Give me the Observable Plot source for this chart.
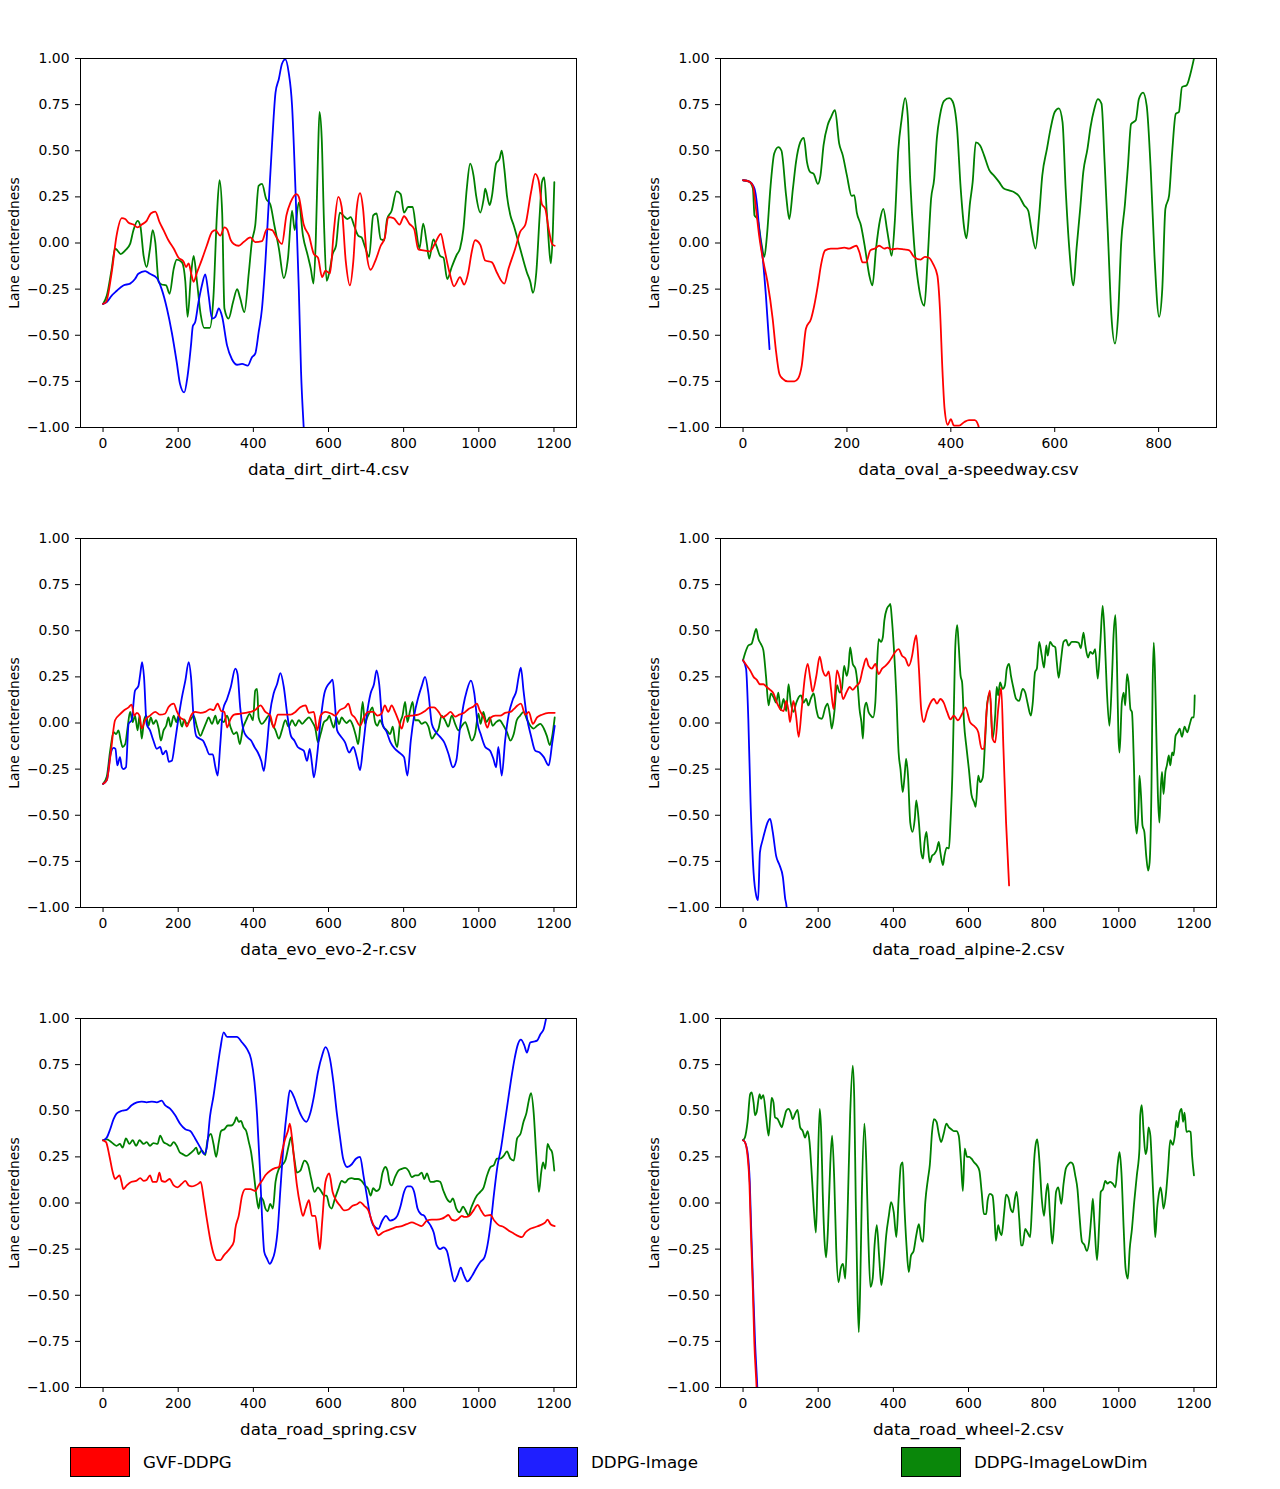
<!DOCTYPE html>
<html>
<head>
<meta charset="utf-8">
<script src="https://cdn.jsdelivr.net/npm/d3@7"></script>
<script src="https://cdn.jsdelivr.net/npm/@observablehq/plot@0.6"></script>
<style>
  body { margin: 0; background: white; font-family: "DejaVu Sans", sans-serif; }
  #page { position: relative; width: 1280px; height: 1489px; background: white; }
  .panel { position: absolute; width: 640px; height: 480px; }
  .legend-item { position: absolute; top: 1447px; height: 30px; display: flex; align-items: center; font-size: 16.7px; color: black; }
  .swatch { width: 58px; height: 28px; border: 1px solid #000; margin-right: 13px; }
</style>
</head>
<body>
<div id="page"></div>
<script>
// ---------- shared ticks / labels ----------
const yTicks = [-1, -0.75, -0.5, -0.25, 0, 0.25, 0.5, 0.75, 1];
const xTicks1200 = [0, 200, 400, 600, 800, 1000, 1200];
const xTicksOval = [0, 200, 400, 600, 800];
const yLabel = "Lane centeredness";
const seriesNames = ["GVF-DDPG", "DDPG-Image", "DDPG-ImageLowDim"];
const seriesColors = ["#ff0000", "#0000ff", "#008000"];
const titles = ["data_dirt_dirt-4.csv", "data_oval_a-speedway.csv", "data_evo_evo-2-r.csv",
                "data_road_alpine-2.csv", "data_road_spring.csv", "data_road_wheel-2.csv"];

// ---------- data_dirt_dirt-4 ----------
const dirtGvf = [[0,-0.33],[8,-0.32],[23,-0.16],[36,0.04],[50,0.135],[59,0.13],[68,0.11],[81,0.10],[92,0.085],[103,0.10],[116,0.12],[127,0.16],[139,0.17],[151,0.11],[161,0.07],[174,0.015],[188,-0.03],[201,-0.08],[214,-0.10],[221,-0.13],[228,-0.11],[234,-0.16],[241,-0.21],[250,-0.16],[263,-0.09],[276,-0.015],[290,0.06],[299,0.07],[312,0.04],[323,0.085],[330,0.075],[340,0.015],[348,-0.005],[361,-0.015],[374,0.005],[392,0.03],[405,0.005],[423,0.01],[436,0.075],[450,0.07],[462,0.03],[476,-0.005],[488,0.15],[499,0.22],[515,0.265],[521,0.25],[534,0.10],[548,0.04],[561,-0.06],[572,-0.08],[583,-0.185],[592,-0.15],[604,-0.165],[614,0.06],[626,0.25],[635,0.195],[646,-0.10],[657,-0.23],[666,-0.10],[675,0.185],[684,0.27],[692,0.185],[701,-0.05],[712,-0.145],[724,-0.10],[739,-0.015],[750,0.03],[759,0.14],[773,0.135],[789,0.10],[801,0.145],[815,0.105],[828,0.075],[839,-0.035],[852,-0.04],[870,-0.045],[884,0.0],[899,0.05],[908,-0.03],[922,-0.16],[934,-0.235],[950,-0.185],[961,-0.225],[972,-0.16],[981,-0.05],[990,0.015],[1004,-0.01],[1017,-0.095],[1035,-0.105],[1048,-0.16],[1068,-0.22],[1079,-0.14],[1097,-0.03],[1110,0.06],[1124,0.10],[1139,0.275],[1150,0.375],[1159,0.34],[1168,0.21],[1177,0.185],[1186,0.075],[1195,-0.005],[1202,-0.015]];
const dirtImg = [[0,-0.33],[10,-0.32],[23,-0.285],[36,-0.26],[54,-0.23],[72,-0.22],[85,-0.195],[94,-0.167],[112,-0.152],[125,-0.167],[143,-0.19],[156,-0.25],[170,-0.355],[183,-0.485],[196,-0.645],[205,-0.765],[216,-0.81],[225,-0.72],[234,-0.555],[239,-0.45],[245,-0.43],[254,-0.32],[263,-0.23],[272,-0.17],[281,-0.285],[290,-0.41],[299,-0.40],[308,-0.355],[317,-0.40],[330,-0.555],[343,-0.63],[357,-0.66],[370,-0.655],[385,-0.665],[396,-0.62],[405,-0.60],[414,-0.485],[423,-0.355],[432,-0.105],[441,0.22],[450,0.545],[459,0.815],[468,0.89],[476,0.97],[485,0.995],[494,0.925],[503,0.745],[512,0.295],[521,-0.25],[527,-0.70],[534,-1.0],[538,-1.15]];
const dirtLow = [[0,-0.33],[10,-0.285],[23,-0.14],[32,-0.03],[38,-0.04],[47,-0.06],[59,-0.04],[72,-0.005],[81,0.07],[92,0.12],[99,0.095],[108,-0.07],[116,-0.13],[125,-0.03],[132,0.07],[139,0.005],[148,-0.21],[156,-0.225],[168,-0.23],[177,-0.275],[188,-0.14],[196,-0.09],[210,-0.105],[219,-0.21],[225,-0.40],[234,-0.175],[241,-0.07],[250,-0.21],[260,-0.39],[269,-0.46],[284,-0.46],[294,-0.285],[303,0.15],[310,0.34],[317,0.165],[323,-0.355],[334,-0.41],[346,-0.32],[357,-0.25],[365,-0.30],[376,-0.375],[388,-0.16],[396,0.005],[405,0.095],[414,0.31],[423,0.32],[434,0.24],[445,0.21],[456,0.095],[468,-0.03],[481,-0.19],[492,-0.085],[503,0.175],[510,0.07],[521,0.22],[532,0.04],[545,-0.07],[553,-0.14],[560,-0.22],[566,0.005],[572,0.475],[576,0.71],[582,0.565],[588,0.11],[595,-0.205],[602,-0.16],[611,-0.06],[620,-0.015],[630,0.165],[639,0.15],[650,0.13],[659,0.14],[668,0.095],[679,0.04],[688,0.03],[697,-0.02],[708,-0.075],[719,0.15],[728,0.16],[739,0.02],[748,0.015],[756,0.13],[768,0.175],[781,0.28],[792,0.265],[801,0.165],[812,0.195],[824,0.195],[833,0.075],[842,-0.03],[852,0.105],[861,0.005],[868,-0.085],[879,0.02],[888,-0.02],[897,-0.07],[906,-0.08],[916,-0.195],[928,-0.13],[941,-0.065],[950,-0.03],[959,0.075],[968,0.295],[977,0.43],[986,0.365],[993,0.255],[1004,0.165],[1013,0.24],[1017,0.295],[1029,0.205],[1035,0.255],[1046,0.43],[1055,0.455],[1061,0.50],[1068,0.40],[1075,0.255],[1084,0.15],[1093,0.095],[1110,-0.03],[1128,-0.16],[1137,-0.21],[1144,-0.27],[1153,-0.16],[1162,0.15],[1168,0.33],[1174,0.355],[1181,0.165],[1189,-0.07],[1192,-0.11],[1197,0.06],[1201,0.33]];

// ---------- data_oval_a-speedway ----------
const ovalGvf = [[0,0.34],[12,0.333],[19,0.31],[25,0.185],[31,0.04],[38,-0.085],[47,-0.21],[57,-0.41],[63,-0.575],[70,-0.71],[76,-0.735],[86,-0.75],[99,-0.75],[106,-0.735],[113,-0.665],[121,-0.465],[131,-0.41],[137,-0.34],[144,-0.23],[150,-0.12],[158,-0.04],[169,-0.03],[182,-0.03],[195,-0.025],[204,-0.03],[218,-0.015],[224,-0.05],[230,-0.105],[237,-0.105],[245,-0.04],[254,-0.03],[262,-0.015],[272,-0.03],[278,-0.025],[285,-0.035],[297,-0.03],[310,-0.035],[320,-0.04],[329,-0.075],[342,-0.09],[350,-0.075],[358,-0.08],[366,-0.115],[374,-0.175],[379,-0.355],[384,-0.70],[388,-0.90],[394,-0.985],[400,-0.955],[406,-0.99],[416,-0.99],[426,-0.97],[435,-0.96],[446,-0.96],[453,-0.99],[456,-1.05]];
const ovalImg = [[0,0.34],[12,0.333],[22,0.295],[27,0.205],[31,0.075],[38,-0.085],[44,-0.285],[51,-0.575]];
const ovalLow = [[0,0.34],[12,0.333],[19,0.295],[22,0.15],[28,0.13],[35,0.005],[41,-0.075],[46,0.04],[53,0.31],[60,0.485],[68,0.52],[74,0.50],[83,0.255],[89,0.13],[96,0.295],[102,0.44],[110,0.545],[117,0.57],[123,0.44],[129,0.385],[136,0.375],[144,0.32],[149,0.365],[155,0.53],[163,0.64],[169,0.68],[177,0.72],[185,0.54],[192,0.475],[200,0.365],[209,0.255],[214,0.26],[219,0.165],[227,0.095],[235,-0.03],[243,-0.175],[249,-0.23],[256,-0.03],[264,0.13],[270,0.185],[277,0.075],[281,0.005],[286,-0.07],[292,0.11],[299,0.51],[305,0.665],[312,0.785],[317,0.69],[322,0.33],[329,0.005],[339,-0.25],[349,-0.34],[355,-0.105],[362,0.24],[368,0.35],[373,0.565],[379,0.69],[387,0.77],[397,0.785],[403,0.77],[412,0.62],[419,0.295],[426,0.075],[430,0.025],[437,0.22],[442,0.33],[448,0.545],[456,0.53],[464,0.475],[474,0.395],[483,0.365],[493,0.33],[502,0.295],[512,0.285],[522,0.275],[531,0.255],[541,0.205],[549,0.175],[555,0.075],[563,-0.03],[570,0.15],[576,0.365],[585,0.51],[592,0.62],[600,0.71],[608,0.73],[615,0.655],[621,0.295],[628,-0.03],[636,-0.23],[642,-0.03],[649,0.185],[655,0.385],[663,0.51],[669,0.63],[676,0.725],[683,0.78],[690,0.755],[696,0.44],[703,0.005],[709,-0.39],[716,-0.545],[722,-0.39],[728,0.005],[735,0.205],[741,0.42],[747,0.645],[756,0.665],[762,0.78],[770,0.815],[777,0.745],[785,0.385],[792,-0.07],[801,-0.40],[807,-0.25],[813,0.185],[820,0.255],[826,0.49],[833,0.70],[839,0.71],[845,0.845],[854,0.855],[861,0.915],[868,1.0]];

// ---------- data_evo_evo-2-r ----------
const evoGvf = [[0,-0.33],[10,-0.31],[20,-0.17],[32,0.015],[44,0.045],[54,0.065],[68,0.085],[76,0.10],[83,0.04],[90,0.055],[97,0.04],[103,-0.03],[112,0.015],[125,0.04],[139,0.06],[152,0.045],[165,0.05],[174,0.085],[188,0.105],[197,0.06],[205,0.03],[216,0.015],[223,-0.02],[234,0.04],[245,0.06],[259,0.055],[272,0.06],[285,0.075],[294,0.07],[305,0.105],[314,0.065],[323,0.06],[330,-0.025],[339,0.02],[349,0.045],[364,0.05],[379,0.055],[392,0.06],[405,0.07],[419,0.095],[432,0.06],[445,0.04],[454,-0.025],[465,0.045],[481,0.045],[499,0.045],[512,0.06],[525,0.085],[539,0.095],[548,0.055],[561,0.06],[570,-0.04],[579,0.04],[592,0.06],[608,0.05],[617,0.04],[630,0.07],[644,0.085],[653,0.105],[661,0.05],[670,0.03],[684,-0.015],[694,0.03],[706,0.06],[719,0.06],[730,0.04],[741,0.05],[750,0.095],[759,0.06],[768,0.095],[777,0.06],[786,0.015],[795,-0.03],[804,0.035],[821,0.04],[839,0.045],[857,0.065],[870,0.085],[881,0.085],[893,0.06],[904,0.03],[915,0.045],[925,0.06],[937,0.035],[948,0.045],[961,0.055],[972,0.075],[986,0.09],[995,0.105],[1002,0.07],[1013,0.03],[1023,-0.025],[1032,0.03],[1044,0.04],[1057,0.04],[1070,0.055],[1084,0.06],[1093,0.075],[1103,0.095],[1112,0.105],[1124,0.045],[1133,0.06],[1144,-0.005],[1155,0.03],[1168,0.045],[1186,0.055],[1202,0.055]];
const evoImg = [[0,-0.33],[10,-0.31],[20,-0.17],[28,-0.135],[33,-0.14],[38,-0.23],[45,-0.185],[50,-0.24],[54,-0.25],[61,-0.24],[68,-0.005],[76,0.015],[85,0.175],[94,0.2],[99,0.265],[104,0.33],[109,0.25],[116,-0.005],[125,-0.04],[134,-0.095],[143,-0.14],[152,-0.13],[159,-0.17],[168,-0.15],[175,-0.21],[183,-0.205],[192,-0.095],[201,0.03],[210,0.14],[219,0.23],[228,0.33],[234,0.25],[241,0.03],[248,-0.07],[257,-0.085],[266,-0.095],[274,-0.13],[283,-0.17],[292,-0.17],[299,-0.24],[305,-0.285],[312,-0.115],[319,0.07],[330,0.13],[340,0.195],[352,0.295],[358,0.265],[365,0.085],[374,-0.04],[383,-0.075],[394,-0.095],[403,-0.13],[412,-0.16],[421,-0.205],[428,-0.26],[435,-0.15],[444,0.05],[454,0.16],[463,0.21],[472,0.27],[481,0.195],[490,0.05],[500,-0.07],[509,-0.095],[518,-0.13],[525,-0.14],[534,-0.15],[543,-0.205],[550,-0.14],[556,-0.22],[561,-0.295],[570,-0.17],[579,0.015],[589,0.16],[595,0.195],[604,0.22],[611,0.235],[617,0.105],[623,-0.04],[632,-0.07],[644,-0.105],[655,-0.16],[666,-0.13],[675,-0.185],[684,-0.255],[692,-0.13],[701,0.03],[712,0.16],[721,0.21],[728,0.285],[735,0.21],[744,-0.005],[755,-0.05],[765,-0.105],[777,-0.14],[788,-0.16],[801,-0.185],[810,-0.285],[819,-0.095],[828,0.04],[839,0.14],[848,0.2],[857,0.25],[866,0.16],[875,-0.005],[886,-0.05],[897,-0.075],[908,-0.105],[919,-0.165],[931,-0.24],[940,-0.205],[950,-0.025],[959,0.095],[968,0.175],[979,0.23],[988,0.16],[997,-0.005],[1005,-0.06],[1017,-0.13],[1030,-0.15],[1039,-0.195],[1046,-0.24],[1052,-0.13],[1061,-0.285],[1070,-0.095],[1079,0.04],[1091,0.13],[1100,0.175],[1106,0.25],[1112,0.30],[1119,0.175],[1128,0.03],[1139,-0.07],[1150,-0.15],[1162,-0.16],[1173,-0.185],[1186,-0.23],[1195,-0.115],[1202,-0.015]];
const evoLow = [[0,-0.33],[10,-0.29],[19,-0.15],[28,-0.05],[35,-0.06],[41,-0.04],[47,-0.095],[52,-0.13],[59,-0.115],[65,-0.03],[72,0.06],[79,0.005],[85,0.04],[92,-0.04],[97,0.04],[103,-0.085],[109,0.015],[115,0.04],[121,-0.015],[127,0.03],[134,-0.005],[141,0.015],[148,-0.03],[154,-0.095],[161,-0.04],[168,-0.015],[174,0.03],[180,-0.02],[188,0.04],[195,0.005],[201,0.04],[210,-0.02],[216,0.02],[223,-0.005],[232,0.015],[241,0.04],[250,-0.02],[259,-0.07],[266,-0.04],[275,0.005],[281,0.03],[290,-0.005],[299,0.04],[305,-0.005],[312,0.02],[321,0.005],[330,0.04],[339,-0.02],[348,-0.06],[356,-0.05],[364,-0.115],[372,-0.03],[381,0.015],[390,0.05],[399,0.015],[405,0.175],[410,0.185],[414,0.03],[423,-0.005],[432,0.015],[441,0.04],[450,-0.005],[459,-0.04],[468,-0.085],[476,-0.04],[485,0.015],[494,-0.02],[503,0.015],[512,-0.015],[521,0.015],[530,-0.005],[539,0.015],[548,0.03],[557,0.005],[565,-0.03],[572,-0.105],[579,-0.06],[588,0.005],[597,0.02],[602,0.04],[608,0.005],[614,-0.025],[621,0.03],[628,-0.005],[635,0.03],[641,0.015],[648,0.0],[657,0.015],[666,-0.02],[673,-0.07],[679,-0.115],[685,-0.005],[691,0.115],[697,-0.005],[703,0.03],[710,0.06],[717,0.085],[724,0.005],[730,-0.015],[737,0.015],[746,-0.02],[755,-0.04],[764,-0.06],[771,-0.02],[777,-0.095],[783,-0.13],[790,-0.005],[797,0.04],[804,0.115],[810,0.005],[817,0.065],[824,0.115],[830,0.015],[839,0.015],[848,-0.005],[857,0.005],[866,-0.02],[875,-0.085],[884,-0.06],[893,-0.03],[901,0.04],[910,0.015],[919,-0.02],[928,0.04],[937,-0.005],[946,-0.04],[955,-0.015],[964,0.005],[972,-0.04],[981,-0.095],[990,-0.06],[999,0.05],[1005,-0.005],[1012,0.06],[1020,0.005],[1029,0.03],[1037,-0.015],[1046,0.005],[1055,0.015],[1066,-0.015],[1075,-0.05],[1084,-0.095],[1093,-0.06],[1101,0.015],[1110,0.04],[1119,0.06],[1128,0.02],[1137,-0.015],[1146,-0.03],[1155,-0.015],[1164,-0.005],[1173,-0.03],[1181,-0.07],[1189,-0.12],[1195,-0.075],[1202,0.03]];

// ---------- data_road_alpine-2 ----------
const alpineGvf = [[0,0.34],[10,0.31],[19,0.285],[28,0.25],[36,0.235],[45,0.21],[54,0.21],[63,0.195],[72,0.18],[81,0.16],[90,0.11],[99,0.075],[108,0.065],[115,0.12],[121,0.065],[125,0.005],[134,0.12],[141,0.04],[148,-0.075],[156,0.075],[165,0.255],[172,0.32],[179,0.24],[185,0.17],[195,0.255],[204,0.36],[212,0.285],[221,0.255],[228,0.28],[234,0.185],[241,0.075],[250,0.285],[257,0.24],[266,0.13],[275,0.165],[284,0.195],[292,0.18],[301,0.2],[310,0.22],[319,0.295],[328,0.35],[334,0.31],[343,0.295],[352,0.32],[361,0.265],[370,0.295],[379,0.31],[388,0.33],[396,0.355],[405,0.385],[414,0.40],[423,0.365],[432,0.35],[441,0.31],[450,0.365],[456,0.44],[461,0.475],[468,0.295],[474,0.075],[481,0.005],[490,0.065],[499,0.11],[508,0.13],[516,0.105],[525,0.13],[534,0.11],[543,0.06],[552,0.02],[561,0.04],[572,0.015],[583,0.05],[592,0.085],[604,0.005],[617,-0.02],[626,-0.05],[635,-0.14],[641,-0.14],[648,0.06],[657,0.175],[664,-0.085],[671,-0.105],[679,0.075],[687,0.19],[693,-0.14],[700,-0.54],[708,-0.88]];
const alpineImg = [[0,0.34],[8,0.295],[14,0.023],[20,-0.43],[28,-0.81],[35,-0.935],[40,-0.96],[45,-0.70],[52,-0.635],[59,-0.58],[65,-0.54],[72,-0.52],[79,-0.59],[88,-0.72],[97,-0.77],[106,-0.835],[112,-0.95],[116,-1.0],[119,-1.1]];
const alpineLow = [[0,0.34],[5,0.375],[14,0.42],[23,0.43],[28,0.465],[35,0.51],[41,0.455],[47,0.43],[54,0.395],[61,0.255],[68,0.095],[74,0.16],[81,0.14],[88,0.11],[94,0.165],[100,0.07],[108,0.13],[115,0.065],[121,0.21],[127,0.11],[134,0.06],[141,0.105],[148,0.14],[154,0.15],[161,0.11],[168,0.13],[174,0.095],[180,0.13],[188,0.16],[195,0.075],[201,0.03],[210,0.023],[219,0.085],[225,0.105],[232,0.03],[236,-0.03],[243,0.06],[250,0.205],[257,0.165],[263,0.185],[269,0.31],[276,0.255],[281,0.31],[285,0.41],[292,0.32],[299,0.295],[305,0.205],[310,0.075],[315,0.005],[319,-0.085],[323,0.075],[328,0.11],[334,0.06],[340,0.04],[346,0.03],[352,0.11],[356,0.295],[361,0.455],[367,0.44],[372,0.465],[376,0.555],[383,0.62],[388,0.635],[392,0.645],[396,0.565],[401,0.42],[408,0.15],[414,-0.16],[419,-0.25],[425,-0.375],[430,-0.285],[434,-0.195],[439,-0.285],[445,-0.54],[451,-0.59],[457,-0.52],[461,-0.42],[468,-0.54],[474,-0.70],[479,-0.735],[483,-0.645],[488,-0.59],[492,-0.665],[497,-0.755],[503,-0.72],[509,-0.71],[515,-0.69],[521,-0.645],[525,-0.70],[532,-0.77],[536,-0.72],[542,-0.675],[548,-0.68],[552,-0.54],[557,-0.285],[561,0.075],[565,0.42],[570,0.53],[574,0.42],[579,0.255],[583,0.22],[588,0.005],[595,-0.14],[601,-0.25],[608,-0.39],[615,-0.43],[619,-0.455],[626,-0.285],[631,-0.32],[638,-0.295],[644,-0.105],[650,0.11],[657,0.16],[664,-0.085],[671,0.04],[675,0.195],[679,0.15],[684,0.22],[691,0.185],[697,0.205],[702,0.295],[708,0.32],[713,0.255],[719,0.195],[727,0.13],[735,0.12],[744,0.185],[751,0.165],[757,0.11],[766,0.04],[771,0.11],[777,0.275],[782,0.295],[788,0.44],[795,0.365],[801,0.30],[807,0.42],[811,0.365],[817,0.44],[824,0.42],[831,0.41],[835,0.33],[840,0.245],[846,0.34],[853,0.44],[860,0.45],[866,0.42],[875,0.44],[884,0.44],[893,0.435],[899,0.405],[906,0.49],[911,0.42],[918,0.355],[924,0.385],[931,0.375],[937,0.40],[944,0.24],[951,0.44],[957,0.635],[962,0.49],[968,0.185],[975,-0.015],[982,0.255],[986,0.475],[991,0.585],[995,0.33],[999,-0.07],[1002,-0.16],[1008,0.11],[1013,0.165],[1017,0.095],[1022,0.265],[1026,0.22],[1031,0.075],[1035,0.06],[1040,-0.21],[1044,-0.52],[1048,-0.60],[1053,-0.43],[1055,-0.285],[1059,-0.39],[1063,-0.555],[1068,-0.59],[1073,-0.72],[1078,-0.80],[1082,-0.755],[1087,-0.34],[1090,0.205],[1093,0.435],[1096,0.295],[1100,-0.07],[1104,-0.39],[1108,-0.54],[1112,-0.34],[1115,-0.265],[1119,-0.385],[1124,-0.265],[1128,-0.23],[1133,-0.175],[1137,-0.23],[1142,-0.16],[1146,-0.175],[1151,-0.07],[1157,-0.05],[1162,-0.03],[1168,-0.075],[1175,-0.02],[1182,-0.05],[1189,-0.005],[1195,0.03],[1200,0.03],[1202,0.15]];

// ---------- data_road_spring ----------
const springGvf = [[0,0.34],[8,0.33],[17,0.255],[26,0.165],[32,0.13],[38,0.14],[44,0.15],[49,0.115],[54,0.075],[63,0.095],[76,0.115],[88,0.12],[99,0.135],[108,0.12],[116,0.125],[125,0.15],[132,0.115],[143,0.115],[150,0.165],[156,0.12],[165,0.115],[177,0.13],[188,0.095],[198,0.085],[210,0.105],[219,0.12],[228,0.095],[236,0.09],[245,0.095],[254,0.105],[260,0.115],[268,0.023],[276,-0.085],[285,-0.195],[294,-0.275],[303,-0.31],[312,-0.31],[321,-0.285],[330,-0.265],[340,-0.24],[348,-0.21],[352,-0.14],[361,-0.07],[370,0.04],[379,0.075],[392,0.075],[405,0.065],[414,0.095],[423,0.12],[432,0.15],[445,0.175],[459,0.19],[468,0.195],[476,0.275],[485,0.35],[492,0.39],[497,0.43],[503,0.35],[510,0.205],[516,0.095],[525,-0.015],[532,-0.07],[539,-0.03],[548,0.015],[556,-0.07],[565,-0.07],[572,-0.175],[577,-0.25],[583,-0.105],[592,0.115],[602,0.16],[611,0.06],[620,0.015],[631,-0.015],[641,-0.04],[653,-0.035],[664,-0.015],[677,-0.005],[684,0.005],[695,-0.015],[706,-0.04],[715,-0.095],[724,-0.14],[733,-0.175],[744,-0.16],[755,-0.15],[768,-0.14],[782,-0.13],[795,-0.125],[808,-0.115],[822,-0.105],[835,-0.115],[848,-0.125],[862,-0.095],[875,-0.09],[888,-0.09],[902,-0.085],[911,-0.075],[919,-0.065],[928,-0.09],[937,-0.095],[946,-0.085],[955,-0.07],[961,-0.075],[968,-0.075],[977,-0.065],[986,-0.04],[997,-0.01],[1006,-0.04],[1017,-0.07],[1031,-0.065],[1041,-0.095],[1053,-0.12],[1066,-0.13],[1080,-0.15],[1093,-0.165],[1106,-0.18],[1115,-0.185],[1124,-0.16],[1137,-0.14],[1151,-0.13],[1164,-0.12],[1177,-0.105],[1183,-0.09],[1191,-0.115],[1202,-0.125]];
const springImg = [[0,0.34],[10,0.355],[19,0.40],[28,0.455],[36,0.485],[50,0.50],[63,0.505],[76,0.53],[90,0.545],[103,0.55],[116,0.545],[130,0.55],[143,0.545],[156,0.555],[165,0.53],[179,0.51],[192,0.475],[205,0.43],[219,0.40],[232,0.39],[245,0.35],[259,0.30],[269,0.265],[276,0.30],[285,0.475],[294,0.58],[303,0.71],[312,0.835],[321,0.925],[330,0.90],[343,0.90],[356,0.90],[370,0.87],[383,0.835],[394,0.78],[403,0.655],[410,0.475],[417,0.205],[423,-0.07],[429,-0.265],[436,-0.30],[444,-0.33],[450,-0.31],[457,-0.265],[465,-0.14],[472,0.075],[481,0.33],[490,0.51],[497,0.61],[508,0.575],[516,0.53],[527,0.475],[541,0.44],[552,0.49],[561,0.575],[572,0.71],[583,0.80],[592,0.845],[604,0.78],[613,0.655],[622,0.49],[631,0.35],[639,0.24],[650,0.195],[662,0.21],[673,0.24],[684,0.25],[693,0.15],[702,0.04],[711,-0.07],[719,-0.12],[733,-0.14],[742,-0.10],[753,-0.07],[764,-0.095],[773,-0.09],[783,-0.07],[792,-0.015],[801,0.06],[810,0.09],[819,0.09],[828,0.06],[837,-0.03],[846,-0.06],[855,-0.07],[862,-0.095],[871,-0.12],[880,-0.16],[888,-0.23],[897,-0.25],[906,-0.24],[915,-0.26],[924,-0.34],[935,-0.425],[943,-0.395],[952,-0.35],[961,-0.395],[970,-0.425],[982,-0.395],[993,-0.355],[1004,-0.32],[1015,-0.295],[1023,-0.23],[1032,-0.105],[1041,0.06],[1050,0.205],[1059,0.295],[1068,0.42],[1077,0.545],[1086,0.67],[1095,0.78],[1104,0.86],[1112,0.885],[1121,0.855],[1128,0.815],[1137,0.87],[1146,0.875],[1155,0.88],[1164,0.915],[1173,0.945],[1179,1.0],[1186,1.08]];
const springLow = [[0,0.34],[10,0.345],[19,0.335],[28,0.32],[36,0.31],[45,0.32],[52,0.30],[61,0.35],[70,0.32],[79,0.34],[88,0.31],[97,0.34],[108,0.32],[116,0.33],[125,0.31],[134,0.325],[145,0.32],[152,0.365],[161,0.33],[170,0.32],[179,0.31],[188,0.33],[196,0.31],[204,0.275],[212,0.265],[221,0.255],[230,0.265],[241,0.285],[248,0.30],[254,0.265],[263,0.285],[272,0.26],[278,0.34],[287,0.375],[294,0.32],[301,0.25],[308,0.33],[314,0.39],[323,0.40],[332,0.42],[341,0.42],[350,0.44],[355,0.465],[361,0.44],[367,0.445],[374,0.41],[381,0.39],[388,0.33],[394,0.275],[401,0.165],[408,0.04],[414,-0.03],[419,0.03],[426,0.015],[432,-0.03],[438,-0.045],[445,-0.005],[452,-0.03],[459,0.115],[468,0.185],[476,0.205],[485,0.23],[494,0.31],[500,0.355],[508,0.255],[516,0.165],[525,0.175],[536,0.23],[545,0.21],[554,0.13],[563,0.06],[572,0.085],[580,0.065],[589,0.04],[595,0.04],[602,-0.015],[608,-0.03],[617,0.023],[626,0.075],[635,0.12],[644,0.11],[653,0.13],[662,0.135],[671,0.13],[679,0.13],[688,0.12],[697,0.095],[706,0.075],[712,0.04],[719,0.08],[727,0.065],[735,0.075],[744,0.165],[751,0.195],[757,0.175],[762,0.115],[768,0.095],[777,0.14],[786,0.175],[795,0.185],[804,0.19],[813,0.175],[822,0.14],[831,0.15],[839,0.15],[848,0.165],[855,0.13],[862,0.16],[871,0.115],[879,0.115],[888,0.12],[897,0.115],[906,0.065],[915,0.023],[924,0.005],[931,0.025],[940,-0.03],[949,-0.05],[958,-0.02],[967,-0.05],[973,-0.07],[979,-0.03],[986,0.005],[995,0.04],[1004,0.06],[1013,0.085],[1022,0.15],[1031,0.195],[1040,0.205],[1048,0.24],[1057,0.24],[1066,0.255],[1075,0.28],[1084,0.24],[1093,0.23],[1102,0.35],[1111,0.375],[1119,0.44],[1127,0.49],[1133,0.555],[1139,0.595],[1146,0.49],[1153,0.255],[1160,0.06],[1166,0.165],[1171,0.22],[1177,0.185],[1183,0.32],[1189,0.295],[1195,0.275],[1201,0.175]];

// ---------- data_road_wheel-2 ----------
const wheelGvf = [[0,0.34],[5,0.33],[12,0.255],[17,0.11],[21,-0.16],[26,-0.465],[30,-0.755],[36,-1.0],[38,-1.1]];
const wheelImg = [[0,0.34],[5,0.33],[13,0.26],[18,0.11],[22,-0.16],[27,-0.465],[32,-0.755],[38,-1.0],[40,-1.1]];
const wheelLow = [[0,0.34],[5,0.355],[12,0.44],[19,0.59],[23,0.60],[28,0.545],[32,0.475],[36,0.49],[44,0.59],[48,0.565],[54,0.585],[61,0.475],[68,0.365],[72,0.455],[76,0.57],[81,0.545],[85,0.465],[92,0.455],[97,0.435],[103,0.41],[109,0.455],[115,0.50],[121,0.51],[127,0.49],[132,0.455],[139,0.485],[145,0.505],[152,0.41],[159,0.39],[165,0.355],[172,0.39],[177,0.33],[183,0.15],[189,-0.05],[194,-0.16],[198,0.11],[204,0.51],[208,0.385],[212,0.06],[217,-0.21],[221,-0.295],[226,-0.14],[232,0.205],[237,0.365],[243,0.11],[248,-0.25],[254,-0.43],[260,-0.355],[266,-0.33],[272,-0.41],[278,-0.07],[285,0.475],[292,0.745],[296,0.565],[300,0.005],[304,-0.43],[308,-0.70],[312,-0.43],[316,0.023],[323,0.43],[328,0.22],[333,-0.16],[339,-0.455],[345,-0.41],[350,-0.23],[356,-0.12],[362,-0.285],[368,-0.445],[374,-0.355],[381,-0.175],[388,-0.07],[394,0.005],[401,-0.05],[408,-0.185],[414,0.023],[420,0.205],[425,0.22],[429,0.005],[435,-0.23],[441,-0.375],[447,-0.285],[454,-0.26],[461,-0.175],[468,-0.115],[474,-0.195],[479,-0.21],[485,0.005],[492,0.13],[497,0.205],[503,0.385],[508,0.455],[515,0.44],[521,0.375],[527,0.33],[534,0.375],[541,0.43],[548,0.41],[554,0.40],[561,0.39],[568,0.39],[574,0.365],[580,0.22],[585,0.065],[590,0.295],[596,0.25],[602,0.25],[608,0.24],[615,0.22],[622,0.205],[629,0.175],[635,0.06],[641,-0.06],[647,-0.06],[651,0.015],[657,0.05],[664,0.04],[669,-0.07],[673,-0.205],[679,-0.12],[684,-0.16],[688,-0.175],[695,-0.05],[700,0.045],[706,0.03],[712,-0.03],[718,-0.05],[724,0.03],[728,0.06],[735,-0.085],[740,-0.23],[744,-0.23],[751,-0.14],[757,-0.16],[764,-0.185],[769,-0.015],[775,0.24],[779,0.32],[783,0.345],[789,0.22],[795,0.023],[801,-0.07],[807,0.06],[811,0.105],[817,-0.07],[823,-0.22],[828,-0.105],[833,0.06],[839,0.085],[847,-0.005],[853,0.105],[859,0.185],[866,0.21],[872,0.22],[878,0.21],[884,0.15],[890,0.075],[895,-0.06],[902,-0.21],[908,-0.225],[915,-0.26],[921,-0.21],[927,-0.07],[931,0.023],[935,-0.105],[942,-0.31],[948,-0.105],[952,0.06],[958,0.075],[964,0.12],[970,0.105],[977,0.115],[984,0.105],[991,0.085],[997,0.21],[1002,0.275],[1007,0.165],[1013,-0.14],[1018,-0.355],[1024,-0.41],[1029,-0.25],[1035,-0.14],[1041,0.005],[1048,0.15],[1055,0.295],[1057,0.475],[1061,0.53],[1066,0.385],[1071,0.265],[1075,0.295],[1079,0.41],[1084,0.365],[1088,0.205],[1093,-0.015],[1097,-0.185],[1102,-0.03],[1106,0.04],[1111,0.085],[1115,0.04],[1119,-0.03],[1126,0.06],[1131,0.185],[1137,0.34],[1144,0.315],[1149,0.365],[1153,0.445],[1157,0.41],[1162,0.49],[1167,0.51],[1171,0.44],[1175,0.49],[1180,0.385],[1186,0.39],[1191,0.385],[1195,0.255],[1200,0.15]];

// ---------- panel table built from the arrays above ----------
const panels = [
  {title: titles[0], domain: [-60, 1260], ticks: xTicks1200, gvf: dirtGvf, img: dirtImg, low: dirtLow, left: 0, top: 0},
  {title: titles[1], domain: [-43.4, 911.4], ticks: xTicksOval, gvf: ovalGvf, img: ovalImg, low: ovalLow, left: 640, top: 0},
  {title: titles[2], domain: [-60, 1260], ticks: xTicks1200, gvf: evoGvf, img: evoImg, low: evoLow, left: 0, top: 480},
  {title: titles[3], domain: [-60, 1260], ticks: xTicks1200, gvf: alpineGvf, img: alpineImg, low: alpineLow, left: 640, top: 480},
  {title: titles[4], domain: [-60, 1260], ticks: xTicks1200, gvf: springGvf, img: springImg, low: springLow, left: 0, top: 960},
  {title: titles[5], domain: [-60, 1260], ticks: xTicks1200, gvf: wheelGvf, img: wheelImg, low: wheelLow, left: 640, top: 960}
];

const page = document.getElementById("page");
const lineOpts = (color) => ({x: d => d[0], y: d => d[1], stroke: color, strokeWidth: 1.8, curve: "monotone-x", clip: true});

for (const p of panels) {
  const chart = Plot.plot({
    width: 640, height: 480,
    marginLeft: 80, marginRight: 64, marginTop: 58, marginBottom: 53,
    style: {fontFamily: "'DejaVu Sans', sans-serif", fontSize: "13.9px", background: "white", color: "black", overflow: "visible"},
    x: {domain: p.domain},
    y: {domain: [-1, 1]},
    marks: [
      Plot.line(p.low, lineOpts(seriesColors[2])),
      Plot.line(p.img, lineOpts(seriesColors[1])),
      Plot.line(p.gvf, lineOpts(seriesColors[0])),
      Plot.frame({stroke: "black", strokeWidth: 1}),
      Plot.axisX({ticks: p.ticks, tickSize: 5, tickPadding: 6, label: null, tickFormat: d => String(d), fontSize: 13.9}),
      Plot.axisY({ticks: yTicks, tickSize: 5, tickPadding: 6, label: null, tickFormat: d3.format(".2f"), fontSize: 13.9}),
      Plot.text([yLabel], {text: d => d, frameAnchor: "left", dx: -66, rotate: -90, textAnchor: "middle", lineAnchor: "middle", fontSize: 13.9}),
      Plot.text([p.title], {text: d => d, frameAnchor: "bottom", dy: 42, textAnchor: "middle", lineAnchor: "middle", fontSize: 16.7})
    ]
  });
  const div = document.createElement("div");
  div.className = "panel";
  div.style.left = p.left + "px";
  div.style.top = p.top + "px";
  div.appendChild(chart);
  page.appendChild(div);
}

// ---------- legend ----------
const legendX = [70, 518, 901];
const legendSwatch = ["#ff0000", "#1f1fff", "#0a870a"];
seriesNames.forEach((name, i) => {
  const item = document.createElement("div");
  item.className = "legend-item";
  item.style.left = legendX[i] + "px";
  const sw = document.createElement("div");
  sw.className = "swatch";
  sw.style.background = legendSwatch[i];
  const label = document.createElement("span");
  label.textContent = name;
  item.appendChild(sw);
  item.appendChild(label);
  page.appendChild(item);
});
</script>
</body>
</html>
